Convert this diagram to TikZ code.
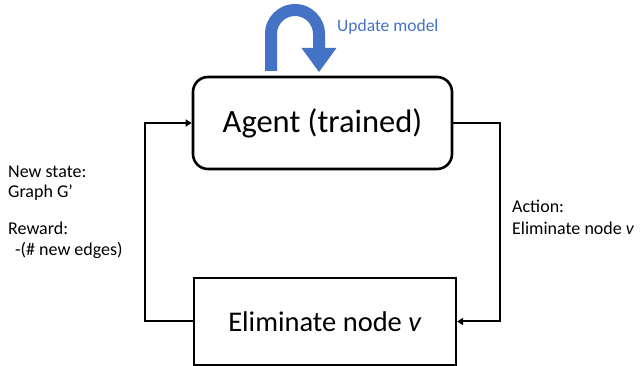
\documentclass[tikz,border=0pt]{standalone}
\usepackage{fontspec}
\setmainfont{Carlito}
\usetikzlibrary{arrows.meta}
\definecolor{officeblue}{HTML}{4472C4}
\begin{document}
\begin{tikzpicture}[x=1pt,y=1pt,
  agentbox/.style={draw, line width=2.6pt, rounded corners=15pt,
    minimum width=259pt, minimum height=92pt, inner sep=0pt,
    font=\fontsize{32.5}{38}\selectfont},
  envbox/.style={draw, line width=2.2pt, minimum width=262pt,
    minimum height=87pt, inner sep=0pt, font=\fontsize{28.5}{33}\selectfont},
  link/.style={line width=2pt, -{Triangle[length=6pt,width=7pt]}},
  lbl/.style={anchor=base west, inner sep=0pt,
    font=\fontsize{18}{21}\selectfont},
]
\useasboundingbox (0,0) rectangle (641,366);

% the two boxes of the loop
\node[agentbox] (agent) at (322.5,243) {Agent (trained)};
\node[envbox] (env) at (325,44.5) {Eliminate node \textit{v}};

% turning points of the loop
\coordinate (lc) at (145,0);
\coordinate (rc) at (500,0);

% feedback from the environment to the agent
\draw[link] (env.west) -- (env.west -| lc) |- (agent.west);
% action from the agent to the environment
\draw[link] (agent.east) -- (agent.east -| rc) |- (env.east);

% U-turn arrow above the agent
\fill[officeblue] (265,295) -- (265,332)
  arc[start angle=180, end angle=0, radius=30]
  -- (325,318) -- (336.5,318) -- (319,294) -- (301.5,318) -- (313,318)
  -- (313,332) arc[start angle=0, end angle=180, radius=18]
  -- (277,295) -- cycle;
\node[lbl, text=officeblue, font=\fontsize{17.5}{21}\selectfont] (update)
  at (337,334) {Update model};

% labels of the loop
\node[lbl] (newstate) at (8,188) {New state:};
\node[lbl] (graphg) at (8,168) {Graph G’};
\node[lbl] (reward) at (8,131) {Reward:};
\node[lbl] (rewardval) at (15,110) {-(\#\ new edges)};

\node[lbl] (action) at (512,153) {Action:};
\node[lbl] (actionval) at (512,131) {Eliminate node \textit{v}};
\end{tikzpicture}
\end{document}
